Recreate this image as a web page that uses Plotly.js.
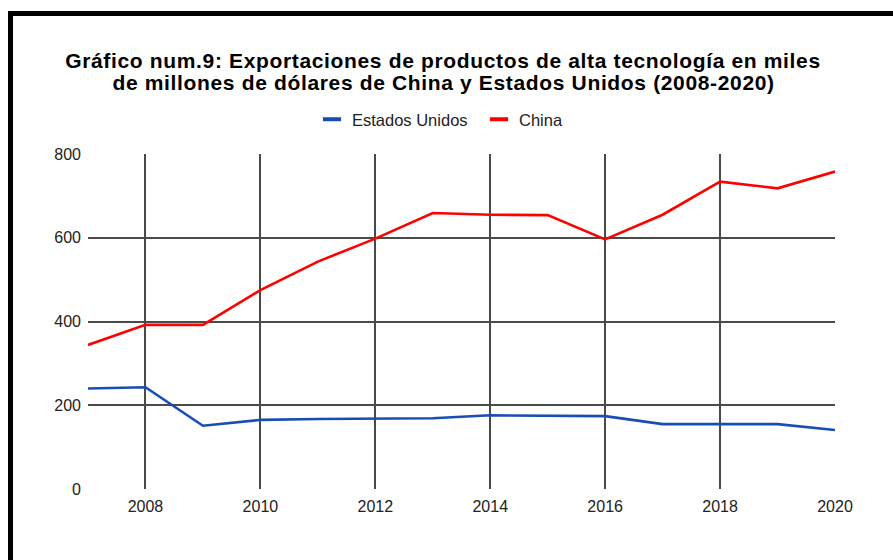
<!DOCTYPE html>
<html>
<head>
<meta charset="utf-8">
<script src="https://cdn.plot.ly/plotly-3.0.1.min.js"></script>
<style>
  html, body { margin: 0; padding: 0; background: #fff; }
  #wrap { position: relative; width: 893px; height: 560px; overflow: hidden; }
  #chart { width: 893px; height: 560px; }
  #frame { position: absolute; left: 8px; top: 11px; width: 900px; height: 600px;
           border-left: 5px solid #000; border-top: 5px solid #000; pointer-events: none; }
  #chart .gtitle, #chart .annotation-text { letter-spacing: 0.65px; }
</style>
</head>
<body>
<div id="wrap">
  <div id="chart"></div>
  <div id="frame"></div>
</div>
<script>
const years = [2007, 2008, 2009, 2010, 2011, 2012, 2013, 2014, 2015, 2016, 2017, 2018, 2019, 2020];
const estadosUnidos = [240, 243, 151, 165, 167, 168, 169, 176, 175, 174, 155, 155, 155, 141];
const china = [344, 392, 392, 475, 543, 598, 659, 655, 654, 596, 655, 734, 718, 758];
const seriesNames = ['Estados Unidos', 'China'];
const seriesColors = ['#1a4db3', '#ff0000'];
const yTicks = [0, 200, 400, 600, 800];
const titleLine1 = 'Gráfico num.9: Exportaciones de productos de alta tecnología en miles';
const titleLine2 = 'de millones de dólares de China y Estados Unidos (2008-2020)';

const FONT = 'Liberation Sans, Arial, sans-serif';
const TITLE_SIZE = 21;

const traces = [
  { x: years, y: estadosUnidos, name: seriesNames[0], mode: 'lines', showlegend: false,
    line: { color: seriesColors[0], width: 2.6 } },
  { x: years, y: china, name: seriesNames[1], mode: 'lines', showlegend: false,
    line: { color: seriesColors[1], width: 2.6 } },
  { x: [null], y: [null], name: seriesNames[0], mode: 'markers', showlegend: true,
    marker: { symbol: 'line-ew', size: 13, line: { color: seriesColors[0], width: 4 } } },
  { x: [null], y: [null], name: seriesNames[1], mode: 'markers', showlegend: true,
    marker: { symbol: 'line-ew', size: 13, line: { color: seriesColors[1], width: 4 } } }
];

const layout = {
  width: 893, height: 560,
  paper_bgcolor: '#fff', plot_bgcolor: '#fff',
  margin: { l: 87.5, r: 58, t: 154.3, b: 71.3 },
  font: { family: FONT, color: '#222', size: 16 },
  title: {
    text: titleLine1,
    font: { family: FONT, size: TITLE_SIZE, color: '#000', weight: 'bold' },
    x: 443 / 893, xanchor: 'center',
    y: 1 - 60.5 / 560, yanchor: 'middle', yref: 'container'
  },
  annotations: [{
    text: titleLine2, showarrow: false,
    xref: 'paper', yref: 'paper',
    x: (443 - 87.5) / 747.5, xanchor: 'center',
    y: (488.7 - 82.5) / 334.4, yanchor: 'middle',
    font: { family: FONT, size: TITLE_SIZE, color: '#000', weight: 'bold' }
  }],
  showlegend: true,
  legend: {
    orientation: 'h', x: 312 / 893, xanchor: 'left', xref: 'container',
    y: 1 - 102 / 560, yanchor: 'top', yref: 'container',
    font: { family: FONT, size: 16.5, color: '#222' },
    bgcolor: 'rgba(0,0,0,0)', traceorder: 'normal',
    entrywidth: 122, entrywidthmode: 'pixels'
  },
  xaxis: {
    range: [2007, 2020], tick0: 2008, dtick: 2, tickmode: 'linear',
    showgrid: true, gridcolor: '#4a4a4a', gridwidth: 2,
    zeroline: false, showline: false, ticks: '',
    ticklabelstandoff: 6,
    tickfont: { family: FONT, size: 16, color: '#222' },
    fixedrange: true
  },
  yaxis: {
    range: [0, 800], tickmode: 'array', tickvals: yTicks, ticktext: yTicks.map(String),
    showgrid: true, gridcolor: '#4a4a4a', gridwidth: 2,
    zeroline: false, showline: false, ticks: '',
    ticklabelstandoff: 6,
    tickfont: { family: FONT, size: 16, color: '#222' },
    fixedrange: true
  }
};

Plotly.newPlot('chart', traces, layout, { staticPlot: true, displayModeBar: false });
</script>
</body>
</html>
